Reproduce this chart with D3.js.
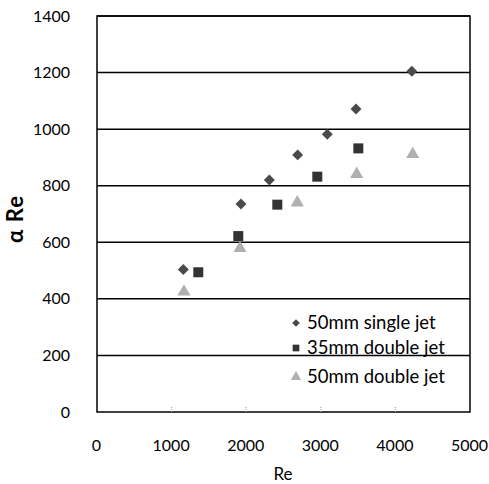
<!DOCTYPE html>
<html><head><meta charset="utf-8">
<script src="https://cdn.jsdelivr.net/npm/d3@7"></script>
<style>body{margin:0;background:#fff}svg{display:block}text{font-family:Lato,"Open Sans",sans-serif}</style>
</head><body>
<svg id="c" width="489" height="484"></svg>
<script>
const xTicks = [0,1000,2000,3000,4000,5000];
const yTicks = [0,200,400,600,800,1000,1200,1400];
const seriesNames = ["50mm single jet","35mm double jet","50mm double jet"];
const singleJet50 = [[1157,504],[1930,735],[2310,820],[2690,909],[3087,982],[3472,1071],[4220,1205]];
const doubleJet35 = [[1358,494],[1894,622],[2417,733],[2953,832],[3503,932]];
const doubleJet50 = [[1166,425],[1917,579],[2685,740],[3481,841],[4232,911]];

const svg = d3.select("#c");
const L=97, R=470, T=16, B=412;
const x = d3.scaleLinear().domain([0,5000]).range([L,R]);
const y = d3.scaleLinear().domain([0,1400]).range([B,T]);

svg.append("g").selectAll("line").data(yTicks.filter(d=>d>0)).join("line")
  .attr("x1",L).attr("x2",R).attr("y1",d=>y(d)).attr("y2",d=>y(d))
  .attr("stroke","#000").attr("stroke-width",1.5);
svg.append("rect").attr("x",L).attr("y",T).attr("width",R-L).attr("height",B-T)
  .attr("fill","none").attr("stroke","#000").attr("stroke-width",1.5);

const yAx = svg.append("g").attr("transform",`translate(${L},0)`)
  .call(d3.axisLeft(y).tickValues(yTicks).tickFormat(d3.format("d")).tickSize(0).tickPadding(27));
yAx.select(".domain").remove();
yAx.selectAll("text").attr("font-size",16).attr("fill","#000").attr("font-family","Lato");
const xAx = svg.append("g").attr("transform",`translate(0,${B})`)
  .call(d3.axisBottom(x).tickValues(xTicks).tickFormat(d3.format("d")).tickSize(0).tickPadding(28));
xAx.select(".domain").remove();
xAx.selectAll("text").attr("font-size",16).attr("fill","#000").attr("font-family","Lato")
  .attr("dx",-1);
svg.append("g").selectAll("line").data(xTicks.slice(1,5)).join("line")
  .attr("x1",d=>x(d)).attr("x2",d=>x(d)).attr("y1",B).attr("y2",B-5)
  .attr("stroke","#999").attr("stroke-width",1).attr("stroke-dasharray","1,1");

svg.append("text").attr("x",283).attr("y",480).attr("text-anchor","middle")
  .attr("font-size",17).text("Re");
svg.append("text").attr("transform","translate(23,219) rotate(-90)").attr("text-anchor","middle")
  .attr("font-size",22).attr("font-weight","bold").attr("letter-spacing",1).text("α Re");

const sym = [d3.symbolSquare, d3.symbolSquare, d3.symbolTriangle];
const rot = [45,0,0];
const cols = ["#4a4a4a","#333","#b0b0b0"];
const sizes = [60,100,75];
const all = [singleJet50, doubleJet35, doubleJet50];
all.forEach((data,i)=>{
  svg.append("g").selectAll("path").data(data).join("path")
    .attr("transform",d=>`translate(${x(d[0])},${y(d[1])}) rotate(${rot[i]})`)
    .attr("d",d3.symbol().type(sym[i]).size(sizes[i]))
    .attr("fill",cols[i]);
});

const lg = svg.append("g");
const ly = [323,348,377];
seriesNames.forEach((n,i)=>{
  lg.append("path").attr("transform",`translate(296,${ly[i]}) rotate(${rot[i]})`)
    .attr("d",d3.symbol().type(sym[i]).size(i==0?30:45)).attr("fill",cols[i]);
  lg.append("text").attr("x",307).attr("y",ly[i]).attr("dy","0.35em")
    .attr("font-size",18.5).text(n);
});
</script>
</body></html>
